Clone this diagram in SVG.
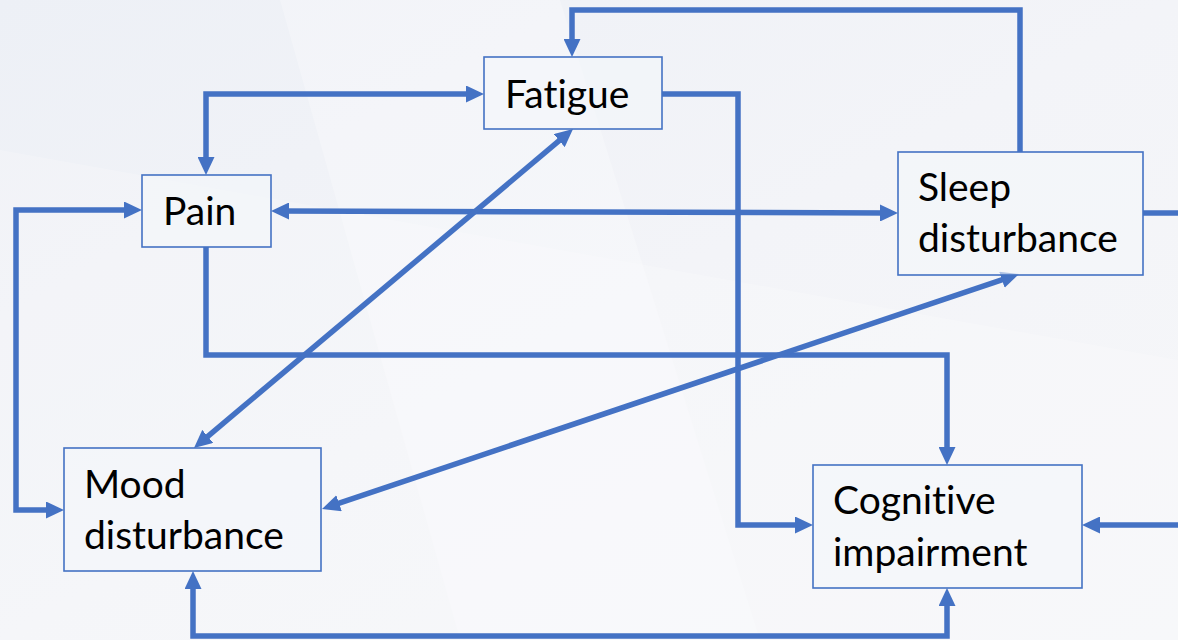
<svg xmlns="http://www.w3.org/2000/svg" width="1178" height="640" viewBox="0 0 1178 640">
<defs>
<linearGradient id="bg" x1="0" y1="0" x2="1" y2="1">
<stop offset="0" stop-color="#edf0f6"/>
<stop offset="0.5" stop-color="#f3f4f8"/>
<stop offset="1" stop-color="#f6f7f9"/>
</linearGradient>
<marker id="ah" viewBox="0 0 18 17" markerWidth="18" markerHeight="17" refX="10" refY="8.5" orient="auto-start-reverse" markerUnits="userSpaceOnUse">
<path d="M0,0 L18,8.5 L0,17 z" fill="#4472c4"/>
</marker>
<style>
.box{fill:#f4f6fa;fill-opacity:0.6;stroke:#4472c4;stroke-width:1.6}
.lbl{font-family:Lato,"Open Sans","Liberation Sans",sans-serif;font-size:39px;fill:#000;font-variant-ligatures:none}
.c{fill:none;stroke:#4472c4;stroke-width:5.5;stroke-linejoin:miter}
</style>
</defs>
<rect width="1178" height="640" fill="url(#bg)"/>
<polygon points="280,0 560,0 760,640 460,640" fill="#ffffff" opacity="0.25"/>
<polygon points="0,150 1178,360 1178,640 0,640" fill="#ffffff" opacity="0.2"/>
<g id="connectors">
<path class="c" d="M206,167 V94 H476" marker-start="url(#ah)" marker-end="url(#ah)"/>
<path class="c" d="M1020,152 V10 H572 V49" marker-end="url(#ah)"/>
<path class="c" d="M662,94 H738 V525 H805" marker-end="url(#ah)"/>
<path class="c" d="M279,211 L890,213" marker-start="url(#ah)" marker-end="url(#ah)"/>
<path class="c" d="M134,210 H16 V510 H56" marker-start="url(#ah)" marker-end="url(#ah)"/>
<path class="c" d="M206,247 V355 H947 V457" marker-end="url(#ah)"/>
<path class="c" d="M200.1,442.8 L566.9,134.2" marker-start="url(#ah)" marker-end="url(#ah)"/>
<path class="c" d="M329.6,506.4 L1011.4,276.6" marker-start="url(#ah)" marker-end="url(#ah)"/>
<path class="c" d="M193,579 V636 H947 V596" marker-start="url(#ah)" marker-end="url(#ah)"/>
<path class="c" d="M1143,213 H1195 V525 H1090" marker-end="url(#ah)"/>
</g>
<g id="fatigue">
<rect class="box" x="484" y="57" width="178" height="72"/>
<text class="lbl" x="505" y="108">Fatigue</text>
</g>
<g id="pain">
<rect class="box" x="142" y="175" width="129" height="72"/>
<text class="lbl" x="163" y="225">Pain</text>
</g>
<g id="sleep">
<rect class="box" x="898" y="152" width="245" height="123"/>
<text class="lbl" x="918" y="201">Sleep</text>
<text class="lbl" x="918" y="252">disturbance</text>
</g>
<g id="mood">
<rect class="box" x="64" y="448" width="257" height="123"/>
<text class="lbl" x="84" y="498">Mood</text>
<text class="lbl" x="84" y="549">disturbance</text>
</g>
<g id="cognitive">
<rect class="box" x="813" y="465" width="269" height="123"/>
<text class="lbl" x="833" y="514">Cognitive</text>
<text class="lbl" x="833" y="566">impairment</text>
</g>
</svg>
